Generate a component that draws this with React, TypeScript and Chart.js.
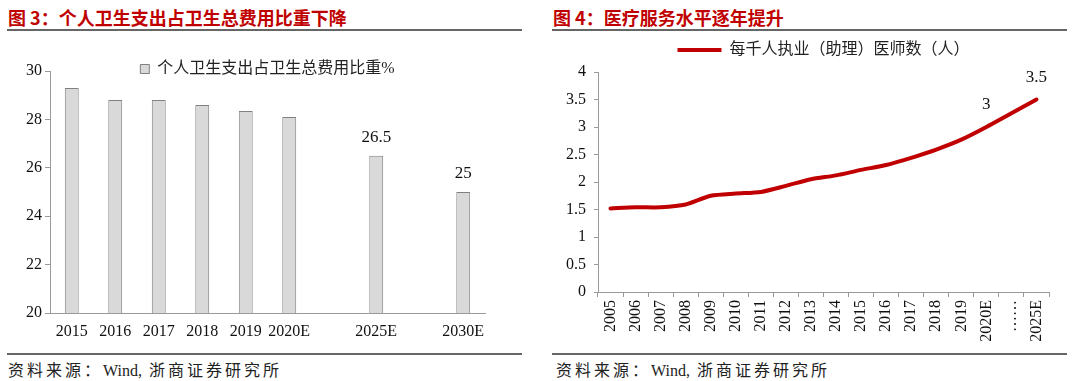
import React, { useEffect, useRef } from 'react';
import { Chart, registerables } from 'chart.js';

Chart.register(...registerables);

// ---------- data ----------
const barCategories = ['2015', '2016', '2017', '2018', '2019', '2020E', '', '2025E', '', '2030E'];
const barValues = [29.3, 28.8, 28.8, 28.6, 28.35, 28.1, null, 26.5, null, 25];
const barValueLabels = [null, null, null, null, null, null, null, '26.5', null, '25'];
const barSeriesName = '个人卫生支出占卫生总费用比重%';
const barYMin = 20;
const barYMax = 30;
const barYStep = 2;

const lineCategories = [
  '2005', '2006', '2007', '2008', '2009', '2010', '2011', '2012', '2013',
  '2014', '2015', '2016', '2017', '2018', '2019', '2020E', '……', '2025E',
];
const lineValues = [
  1.52, 1.54, 1.54, 1.59, 1.75, 1.79, 1.82, 1.93, 2.05,
  2.12, 2.22, 2.31, 2.44, 2.59, 2.77, 3.0, null, 3.5,
];
const lineValueLabels = [
  null, null, null, null, null, null, null, null, null,
  null, null, null, null, null, null, '3', null, '3.5',
];
const lineSeriesName = '每千人执业（助理）医师数（人）';
const lineYMin = 0;
const lineYMax = 4;
const lineYStep = 0.5;

const leftTitle = '图 3：个人卫生支出占卫生总费用比重下降';
const rightTitle = '图 4：医疗服务水平逐年提升';
const sourceText = '资料来源：Wind, 浙商证券研究所';

// ---------- styles ----------
const FONT = '"Liberation Serif", "Noto Sans CJK SC", serif';
const RED = '#c00000';
const AXIS = '#9a9a9a';

const placeLegend = (centerY: number) => ({
  id: 'placeLegend',
  afterLayout(chart: any) {
    const l: any = chart.legend;
    if (!l) return;
    const pad = l.options.labels.padding;
    const fs = 16;
    const top = centerY - pad - fs / 2;
    l.left = chart.chartArea.left;
    l.right = chart.chartArea.right;
    l.top = top;
    l.bottom = top + 2 * pad + fs + 10;
    l.width = l.right - l.left;
    l.height = l.bottom - l.top;
  },
});

const valueLabels = {
  id: 'valueLabels',
  afterDatasetsDraw(chart: any) {
    const ctx = chart.ctx;
    chart.data.datasets.forEach((ds: any, di: number) => {
      const labels = ds.valueLabels;
      if (!labels) return;
      const meta = chart.getDatasetMeta(di);
      meta.data.forEach((el: any, i: number) => {
        const t = labels[i];
        if (!t) return;
        ctx.save();
        ctx.font = '17px ' + FONT;
        ctx.fillStyle = '#111';
        ctx.textAlign = 'center';
        ctx.textBaseline = 'middle';
        ctx.fillText(t, el.x, el.y - ds.valueLabelOffset);
        ctx.restore();
      });
    });
  },
};

const plainNumber = (v: any) => `${+Number(v).toFixed(2)}`;

function ChartBox({ make, style }: { make: (c: HTMLCanvasElement) => Chart; style: React.CSSProperties }) {
  const ref = useRef<HTMLCanvasElement | null>(null);
  useEffect(() => {
    if (!ref.current) return;
    const ch = make(ref.current);
    return () => ch.destroy();
  }, []);
  return (
    <div style={{ position: 'absolute', ...style }}>
      <canvas ref={ref} width={style.width as number} height={style.height as number} />
    </div>
  );
}

const makeBar = (canvas: HTMLCanvasElement) =>
  new Chart(canvas, {
    type: 'bar',
    data: {
      labels: barCategories,
      datasets: [
        {
          label: barSeriesName,
          data: barValues,
          backgroundColor: '#d9d9d9',
          borderColor: '#808080',
          borderWidth: 1,
          barPercentage: 0.32,
          categoryPercentage: 1,
          valueLabels: barValueLabels,
          valueLabelOffset: 18,
        } as any,
      ],
    },
    options: {
      responsive: false,
      animation: false,
      devicePixelRatio: 1,
      layout: { padding: { top: 30, right: 45, left: 0, bottom: 0 } },
      plugins: {
        tooltip: { enabled: false },
        legend: {
          position: 'top',
          maxHeight: 1,
          labels: {
            boxWidth: 9,
            boxHeight: 9,
            padding: 4,
            color: '#222',
            font: { family: FONT, size: 16 },
          },
        },
      },
      scales: {
        x: {
          afterFit: (s: any) => { s.height = 37; },
          grid: { display: false, drawTicks: false },
          border: { display: true, color: AXIS, width: 1 },
          ticks: {
            color: '#111',
            font: { family: FONT, size: 16 },
            padding: 9,
            maxRotation: 0,
            minRotation: 0,
            autoSkip: false,
          },
        },
        y: {
          min: barYMin,
          max: barYMax,
          afterFit: (s: any) => { s.width = 50; },
          grid: { drawOnChartArea: false, drawTicks: true, tickLength: 5, color: AXIS },
          border: { display: true, color: AXIS, width: 1 },
          ticks: {
            stepSize: barYStep,
            color: '#111',
            font: { family: FONT, size: 16 },
            padding: 3,
            callback: plainNumber,
          },
        },
      },
    },
    plugins: [placeLegend(29), valueLabels],
  } as any);

const makeLine = (canvas: HTMLCanvasElement) =>
  new Chart(canvas, {
    type: 'line',
    data: {
      labels: lineCategories,
      datasets: [
        {
          label: lineSeriesName,
          data: lineValues,
          borderColor: RED,
          backgroundColor: RED,
          borderWidth: 4,
          borderCapStyle: 'round',
          borderJoinStyle: 'round',
          pointRadius: 0,
          tension: 0.25,
          spanGaps: true,
          valueLabels: lineValueLabels,
          valueLabelOffset: 22,
        } as any,
      ],
    },
    options: {
      responsive: false,
      animation: false,
      devicePixelRatio: 1,
      layout: { padding: { top: 31, right: 31, left: 0, bottom: 0 } },
      plugins: {
        tooltip: { enabled: false },
        legend: {
          position: 'top',
          maxHeight: 1,
          labels: {
            usePointStyle: true,
            pointStyleWidth: 44,
            padding: 4,
            color: '#222',
            font: { family: FONT, size: 16 },
            generateLabels: (chart: any) =>
              Chart.defaults.plugins.legend.labels.generateLabels(chart).map((it: any) => ({
                ...it,
                pointStyle: 'line',
                lineWidth: 4,
                strokeStyle: RED,
                fillStyle: RED,
              })),
          },
        },
      },
      scales: {
        x: {
          offset: true,
          afterFit: (s: any) => { s.height = 58; },
          grid: { offset: true, drawOnChartArea: false, drawTicks: true, tickLength: 5, color: AXIS },
          border: { display: true, color: AXIS, width: 1 },
          ticks: {
            color: '#111',
            font: { family: FONT, size: 16 },
            padding: 3,
            maxRotation: 90,
            minRotation: 90,
            autoSkip: false,
          },
        },
        y: {
          min: lineYMin,
          max: lineYMax,
          afterFit: (s: any) => { s.width = 58; },
          grid: { drawOnChartArea: false, drawTicks: true, tickLength: 4, color: AXIS },
          border: { display: true, color: AXIS, width: 1 },
          ticks: {
            stepSize: lineYStep,
            color: '#111',
            font: { family: FONT, size: 16 },
            padding: 8,
            callback: plainNumber,
          },
        },
      },
    },
    plugins: [placeLegend(10), valueLabels],
  } as any);

const titleStyle: React.CSSProperties = {
  position: 'absolute',
  top: 6,
  fontFamily: '"Noto Sans CJK SC", sans-serif',
  fontWeight: 700,
  fontSize: 18,
  lineHeight: '22px',
  color: RED,
  whiteSpace: 'nowrap',
};
const ruleStyle: React.CSSProperties = {
  position: 'absolute',
  height: 2,
  width: 515,
  background: '#666',
};
const footStyle: React.CSSProperties = {
  position: 'absolute',
  top: 361,
  fontFamily: FONT,
  fontSize: 16,
  lineHeight: '20px',
  color: '#222',
  whiteSpace: 'nowrap',
};

function SourceLine({ text, left }: { text: string; left: number }) {
  const parts = text.split(/([A-Za-z0-9, ]+)/).filter((p) => p.length > 0);
  return (
    <div style={{ ...footStyle, left }}>
      {parts.map((p, i) =>
        /^[A-Za-z0-9, ]+$/.test(p) ? (
          <span key={i} style={{ letterSpacing: '0px', marginRight: 3 }}>{p}</span>
        ) : (
          <span key={i} style={{ letterSpacing: '3px' }}>{p}</span>
        )
      )}
    </div>
  );
}

export default function App() {
  return (
    <div style={{ position: 'absolute', left: 0, top: 0, width: 1080, height: 381, background: '#fff', overflow: 'hidden' }}>
      <div style={{ ...titleStyle, left: 8 }}>{leftTitle}</div>
      <div style={{ ...titleStyle, left: 553 }}>{rightTitle}</div>
      <div style={{ ...ruleStyle, left: 7, top: 29 }} />
      <div style={{ ...ruleStyle, left: 552, top: 29 }} />
      <ChartBox make={makeBar} style={{ left: 0, top: 40, width: 530, height: 310 }} />
      <ChartBox make={makeLine} style={{ left: 540, top: 40, width: 540, height: 310 }} />
      <div style={{ ...ruleStyle, left: 7, top: 353 }} />
      <div style={{ ...ruleStyle, left: 552, top: 353 }} />
      <SourceLine text={sourceText} left={8} />
      <SourceLine text={sourceText} left={556} />
    </div>
  );
}
